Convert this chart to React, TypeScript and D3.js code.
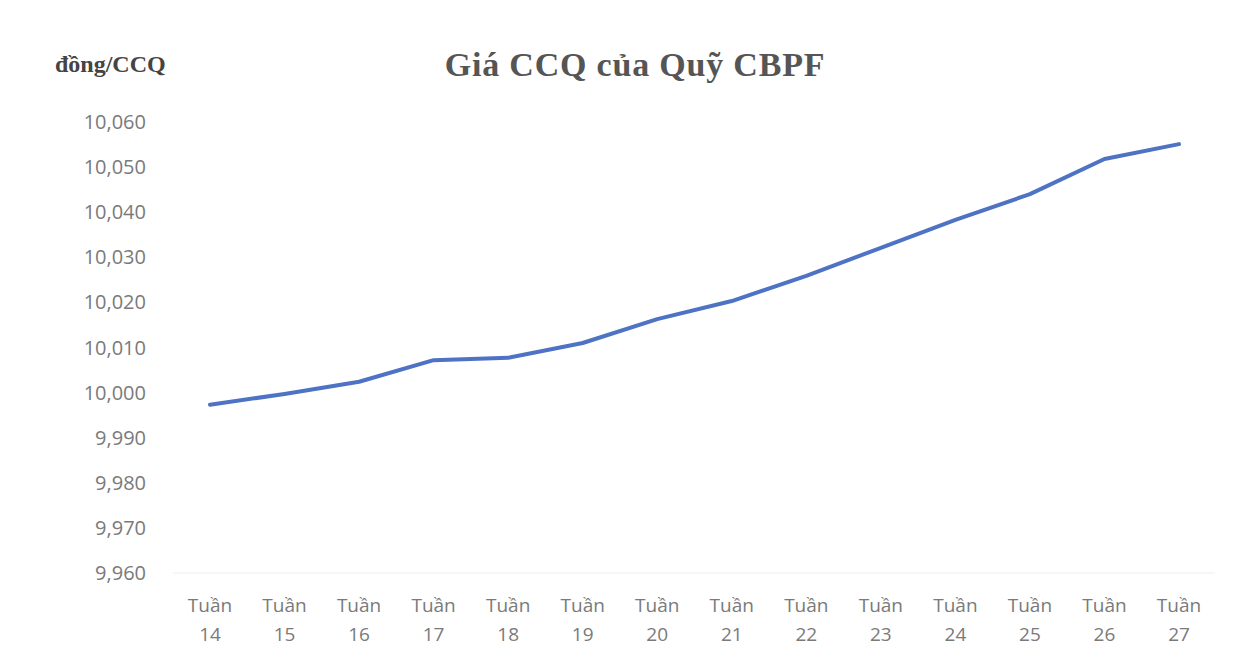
import React from "react";
import * as d3 from "d3";

const weeks = ["14", "15", "16", "17", "18", "19", "20", "21", "22", "23", "24", "25", "26", "27"];
const prices = [9997.3, 9999.7, 10002.4, 10007.2, 10007.7, 10011.0, 10016.3, 10020.3, 10025.9, 10032.1, 10038.3, 10044.0, 10051.8, 10055.1];
const yTicks = [9960, 9970, 9980, 9990, 10000, 10010, 10020, 10030, 10040, 10050, 10060];
const title = "Giá CCQ của Quỹ CBPF";
const unitLabel = "đồng/CCQ";

export default function App() {
  const W = 1245, H = 668;
  const x = d3.scalePoint<string>().domain(weeks).range([210, 1179]);
  const y = d3.scaleLinear().domain([9960, 10060]).range([573, 122]);
  const fmt = d3.format(",");
  const line = d3
    .line<number>()
    .x((_, i) => x(weeks[i]) as number)
    .y((d) => y(d));
  const sansFont = "'Open Sans', sans-serif";
  return (
    <svg
      width={W}
      height={H}
      style={{ position: "absolute", left: 0, top: 0, background: "#fff" }}
    >
      <rect x={0} y={0} width={W} height={H} fill="#fff" />
      <text
        x={635}
        y={76}
        textAnchor="middle"
        fontFamily="'Liberation Serif', serif"
        fontWeight="bold"
        fontSize={34}
        letterSpacing={0.8}
        fill="#555"
      >
        {title}
      </text>
      <text
        x={55}
        y={72}
        fontFamily="'Liberation Serif', serif"
        fontWeight="bold"
        fontSize={24}
        fill="#444"
      >
        {unitLabel}
      </text>
      {yTicks.map((t) => (
        <text
          key={t}
          x={146}
          y={y(t)}
          dy="0.35em"
          textAnchor="end"
          fontFamily={sansFont}
          fontSize={20}
          fill="#7a7a7a"
        >
          {fmt(t)}
        </text>
      ))}
      <line x1={173} x2={1215} y1={y(9960)} y2={y(9960)} stroke="#eee" strokeWidth={1} />
      {weeks.map((w) => (
        <g key={w} fontFamily={sansFont} fontSize={19} fill="#7a7a7a" textAnchor="middle">
          <text x={x(w)} y={612}>Tuần</text>
          <text x={x(w)} y={641}>{w}</text>
        </g>
      ))}
      <path
        d={line(prices) || ""}
        fill="none"
        stroke="#4e72c4"
        strokeWidth={4}
        strokeLinejoin="round"
        strokeLinecap="round"
      />
    </svg>
  );
}
